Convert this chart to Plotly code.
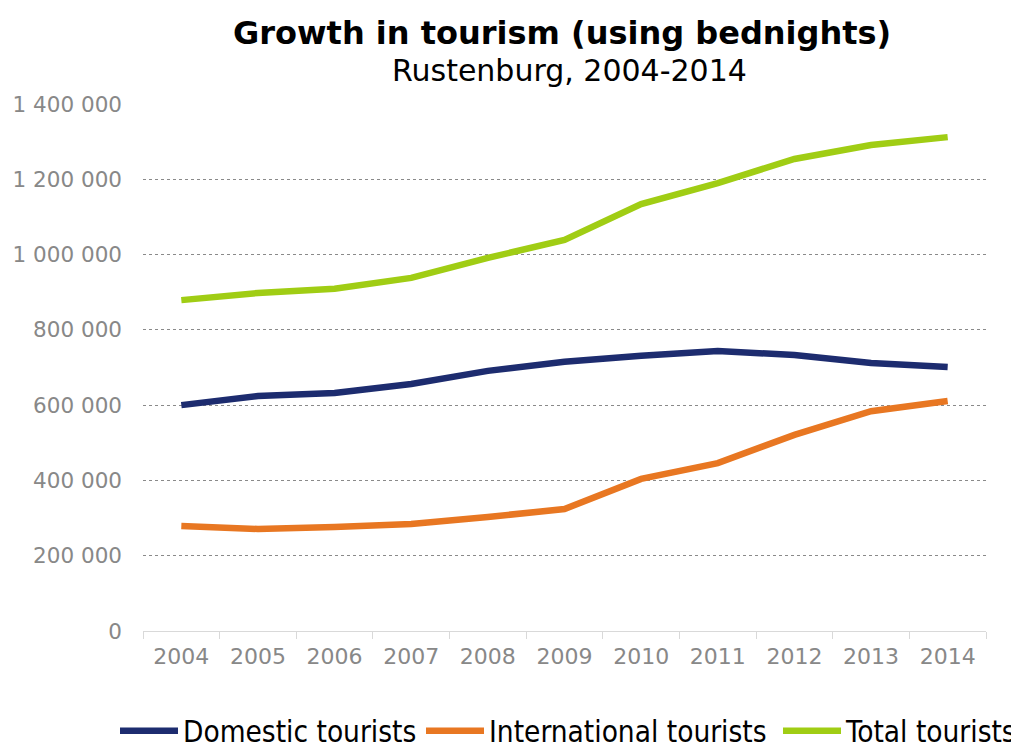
import plotly.graph_objects as go

years = ["2004", "2005", "2006", "2007", "2008", "2009", "2010", "2011", "2012", "2013", "2014"]
domestic = [600000, 624000, 632000, 656000, 691000, 715000, 731000, 744000, 733000, 712000, 701000]
international = [279000, 271000, 276000, 284000, 303000, 324000, 404000, 446000, 521000, 584000, 611000]
total = [879000, 898000, 909000, 938000, 991000, 1039000, 1134000, 1190000, 1254000, 1291000, 1312000]

series = [
    ("Domestic tourists", domestic, "#1d2c6f", "legend", 115),
    ("International tourists", international, "#e87722", "legend2", 421),
    ("Total tourists", total, "#a0cd14", "legend3", 778),
]

fig = go.Figure()
legend_font = dict(family="DejaVu Sans Condensed, Liberation Sans Narrow, sans-serif",
                   size=29.5, color="black")
legends = {}
for name, vals, color, leg, left_px in series:
    fig.add_trace(go.Scatter(
        x=years, y=vals, name=name, mode="lines", legend=leg, showlegend=True,
        line=dict(color=color, width=6.5),
    ))
    legends[leg] = dict(
        orientation="h", xref="container", x=left_px / 1011, xanchor="left",
        yref="container", y=0.016, yanchor="middle",
        font=legend_font, itemwidth=58, visible=True,
    )

fig.update_layout(
    width=1011, height=743,
    margin=dict(l=143, r=25, t=104, b=112, autoexpand=False),
    paper_bgcolor="white", plot_bgcolor="white",
    showlegend=True,
    separators=". ",
    font=dict(family="DejaVu Sans"),
    annotations=[
        dict(text="<b>Growth in tourism (using bednights)</b>",
             xref="paper", yref="paper", x=(562 - 143) / 843, y=1 + (104 - 33) / 527,
             xanchor="center", yanchor="middle", showarrow=False,
             font=dict(family="DejaVu Sans", size=32, color="black")),
        dict(text="Rustenburg, 2004-2014",
             xref="paper", yref="paper", x=(569 - 143) / 843, y=1 + (104 - 70) / 527,
             xanchor="center", yanchor="middle", showarrow=False,
             font=dict(family="DejaVu Sans", size=30, color="black")),
    ],
    **legends,
)

fig.update_xaxes(
    type="category", range=[-0.5, 10.5], tickson="boundaries",
    ticks="outside", ticklen=7, tickcolor="#d9d9d9",
    showline=True, linecolor="#d9d9d9", linewidth=1,
    showgrid=False, tickfont=dict(size=22, color="#888888"),
    ticklabelstandoff=6,
)
fig.update_yaxes(
    range=[0, 1400000], dtick=200000, tickformat=",d",
    showgrid=True, gridcolor="#8a8a8a", griddash="dot", gridwidth=1,
    zeroline=False, showline=False,
    tickfont=dict(size=21.5, color="#888888"), ticklabelstandoff=20,
)

fig.write_html("out.html")
